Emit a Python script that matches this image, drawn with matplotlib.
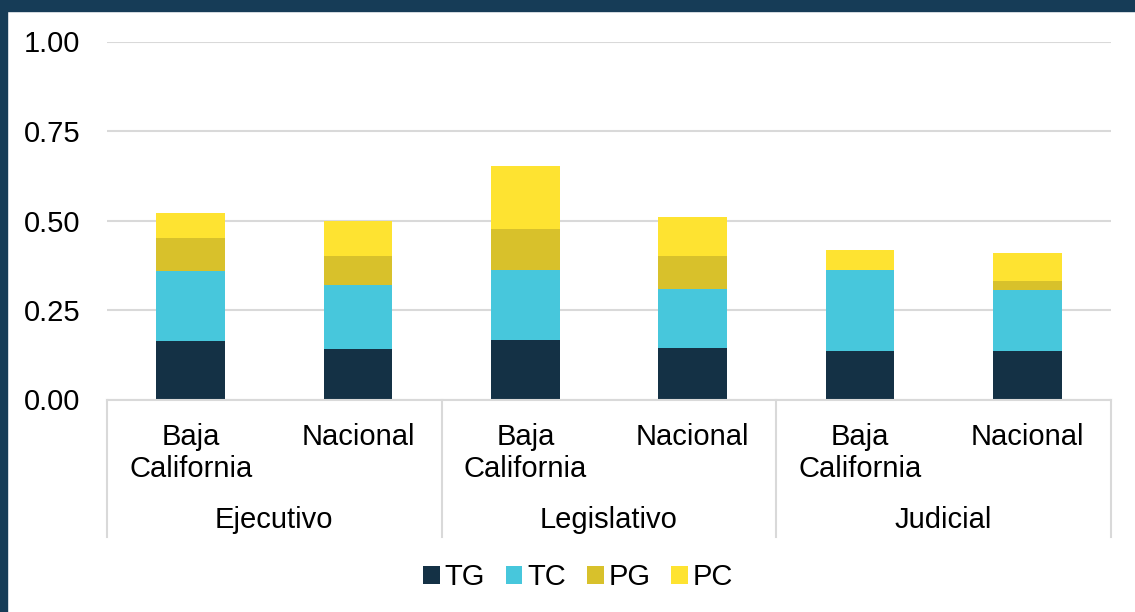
import matplotlib
matplotlib.use("Agg")
import matplotlib.pyplot as plt
from matplotlib.patches import Rectangle, Patch
import numpy as np

plt.rcParams['font.family'] = ['Liberation Sans', 'DejaVu Sans']

# Data
groups = ["Ejecutivo", "Legislativo", "Judicial"]
subcats = ["Baja\nCalifornia", "Nacional", "Baja\nCalifornia", "Nacional", "Baja\nCalifornia", "Nacional"]
series_names = ["TG", "TC", "PG", "PC"]
TG = [0.163, 0.142, 0.166, 0.144, 0.136, 0.135]
TC = [0.197, 0.179, 0.196, 0.165, 0.226, 0.170]
PG = [0.092, 0.080, 0.113, 0.093, 0.000, 0.025]
PC = [0.070, 0.098, 0.177, 0.109, 0.055, 0.079]
yticks = [0.0, 0.25, 0.5, 0.75, 1.0]
ytick_labels = ["0.00", "0.25", "0.50", "0.75", "1.00"]

colors = ["#143145", "#47C7DC", "#D8C12B", "#FEE331"]
border = "#163C57"
FS = 21

W, H = 1135, 612
fig = plt.figure(figsize=(W / 100, H / 100), dpi=100)
fig.patch.set_facecolor("white")
# navy frame (top & left)
fig.add_artist(Rectangle((0, 1 - 11 / H), 1, 11 / H, transform=fig.transFigure, color=border, zorder=0))
fig.add_artist(Rectangle((0, 0), 7 / W, 1, transform=fig.transFigure, color=border, zorder=0))

ax_left, ax_right = 107 / W, 1111 / W
ax_bottom = (H - 399.5) / H
ax_top = (H - 41.5) / H
ax = fig.add_axes([ax_left, ax_bottom, ax_right - ax_left, ax_top - ax_bottom])

x = np.arange(len(subcats))
bottom = np.zeros(len(subcats))
for name, vals, c in zip(series_names, [TG, TC, PG, PC], colors):
    ax.bar(x, vals, width=0.41, bottom=bottom, color=c, label=name, zorder=3)
    bottom += np.array(vals)

ax.set_xlim(-0.5, len(subcats) - 0.5)
ax.set_ylim(0, 1.0)
ax.set_yticks(yticks)
ax.set_yticklabels(ytick_labels, fontsize=FS, color="#000000")
ax.tick_params(axis="y", length=0, pad=19)
ax.set_xticks([])
ax.grid(axis="y", color="#D9D9D9", linewidth=1.5, zorder=0)
for s in ["top", "right", "left"]:
    ax.spines[s].set_visible(False)
ax.spines["bottom"].set_color("#D9D9D9")
ax.spines["bottom"].set_linewidth(1.5)
ax.spines["bottom"].set_zorder(4)

# category labels
for i, lab in enumerate(subcats):
    lines = lab.split("\n")
    for k, ln in enumerate(lines):
        ax.annotate(ln, xy=(i, 0), xycoords="data", xytext=(0, -(45.5 + 32 * k)),
                    textcoords="offset pixels", ha="center", va="baseline",
                    fontsize=FS, color="#000000", annotation_clip=False)
for g, name in enumerate(groups):
    ax.annotate(name, xy=(2 * g + 0.5, 0), xycoords="data", xytext=(0, -128.5),
                textcoords="offset pixels", ha="center", va="baseline",
                fontsize=FS, color="#000000", annotation_clip=False)

# group separators
sep_depth = 137.5 / 358.0
for xs in [-0.5, 1.5, 3.5, 5.5]:
    ax.plot([xs, xs], [0, -sep_depth], color="#D9D9D9", linewidth=1.5, clip_on=False, zorder=4)

handles = [Patch(facecolor=c, edgecolor="none") for c in colors]
fig.legend(handles, series_names, loc="center", bbox_to_anchor=(578 / W, 1 - 577 / H),
           ncol=4, frameon=False, fontsize=FS, handlelength=0.58, handleheight=0.58,
           handletextpad=0.17, columnspacing=0.7, borderpad=0)

fig.savefig("out.png", dpi=100, facecolor="white")
